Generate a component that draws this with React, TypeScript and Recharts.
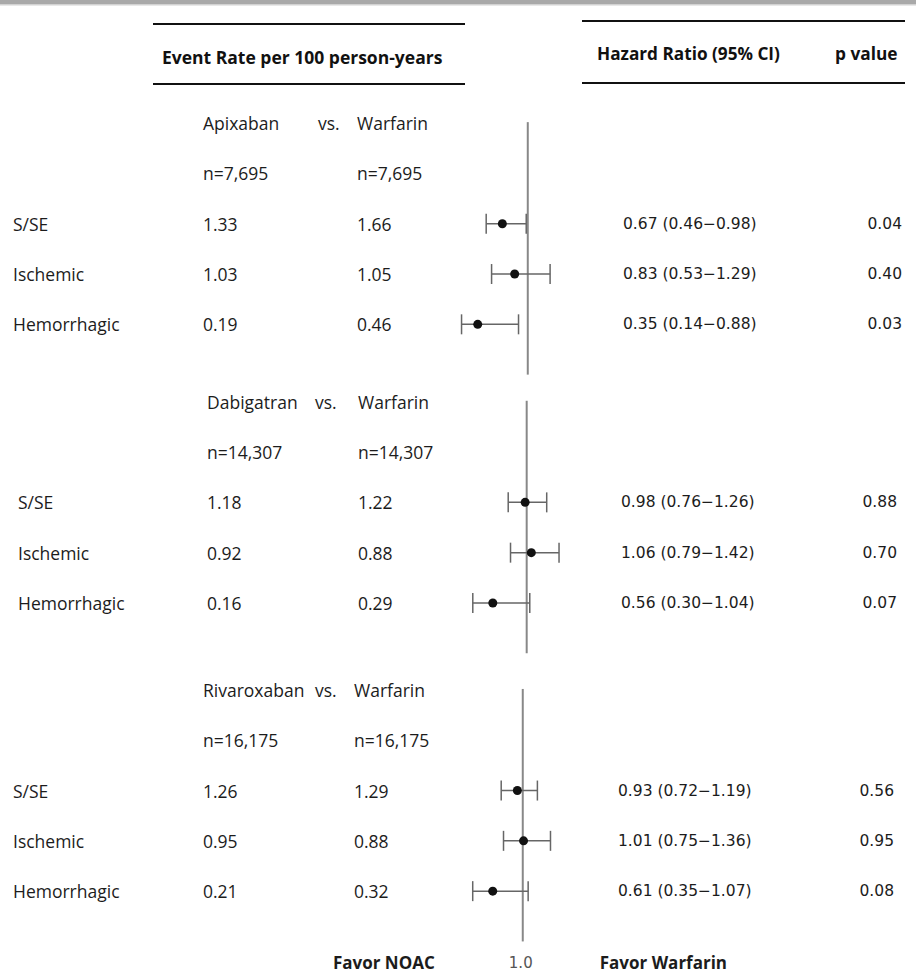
import React from 'react'
import { ComposedChart, Scatter, ErrorBar, XAxis, YAxis, ReferenceLine } from 'recharts'

// comparisons, one block each
const drugs = ['Apixaban', 'Dabigatran', 'Rivaroxaban']
const comparator = 'Warfarin'
const sampleSizes = ['n=7,695', 'n=14,307', 'n=16,175']
const outcomes = ['S/SE', 'Ischemic', 'Hemorrhagic']

// event rate per 100 person-years
const noacRates = [
  ['1.33', '1.03', '0.19'],
  ['1.18', '0.92', '0.16'],
  ['1.26', '0.95', '0.21'],
]
const warfarinRates = [
  ['1.66', '1.05', '0.46'],
  ['1.22', '0.88', '0.29'],
  ['1.29', '0.88', '0.32'],
]

// hazard ratio and 95% CI
const hazardRatios = [
  [0.67, 0.83, 0.35],
  [0.98, 1.06, 0.56],
  [0.93, 1.01, 0.61],
]
const ciLower = [
  [0.46, 0.53, 0.14],
  [0.76, 0.79, 0.3],
  [0.72, 0.75, 0.35],
]
const ciUpper = [
  [0.98, 1.29, 0.88],
  [1.26, 1.42, 1.04],
  [1.19, 1.36, 1.07],
]
const pValues = [
  ['0.04', '0.40', '0.03'],
  ['0.88', '0.70', '0.07'],
  ['0.56', '0.95', '0.08'],
]
const nullValue = 1
const favorLabels = ['Favor NOAC', 'Favor Warfarin']

// layout
const W = 916
const H = 980
const SECTION_TOP = [0, 5.54, 11.27]
const X_DOMAINS: [number, number][] = [
  [-0.01, 1.99],
  [0.004, 2.004],
  [0.055, 2.055],
]
const COLS = [
  { label: 13, noac: 203, vs: 318, warf: 357, hr: 623, p: 902 },
  { label: 18, noac: 207, vs: 315, warf: 358, hr: 621, p: 897 },
  { label: 13, noac: 203, vs: 315, warf: 354, hr: 618, p: 894 },
]

const SANS = '"Open Sans", "Liberation Sans", sans-serif'
const VERD = '"DejaVu Sans", sans-serif'
const INK = '#1c1c1c'

type Row = { pos: number; section: number; kind: 'drug' | 'n' | 'outcome'; k: number }

const rows: Row[] = []
drugs.forEach((_, s) => {
  rows.push({ pos: SECTION_TOP[s], section: s, kind: 'drug', k: -1 })
  rows.push({ pos: SECTION_TOP[s] + 1, section: s, kind: 'n', k: -1 })
  outcomes.forEach((_, k) => rows.push({ pos: SECTION_TOP[s] + 2 + k, section: s, kind: 'outcome', k }))
})

const pointsFor = (s: number) =>
  outcomes.map((name, k) => {
    const hr = hazardRatios[s][k]
    return {
      name,
      hr,
      y: SECTION_TOP[s] + 2 + k,
      err: [hr - ciLower[s][k], ciUpper[s][k] - hr],
    }
  })

const fmtCI = (s: number, k: number) =>
  `${hazardRatios[s][k].toFixed(2)} (${ciLower[s][k].toFixed(2)}\u2212${ciUpper[s][k].toFixed(2)})`

const RowTick = (props: any) => {
  const { y, payload, index } = props
  const v = payload ? payload.value : undefined
  let row = rows.find((r) => Math.abs(r.pos - Number(v)) < 1e-3)
  if (!row && typeof index === 'number') row = rows[index]
  if (!row) return <g />
  const c = COLS[row.section]
  const s = row.section
  const t = (x: number, str: string, extra: any = {}) => (
    <text x={x} y={y} dominantBaseline="central" fontFamily={SANS} fontSize={17.5} fill={INK} {...extra}>
      {str}
    </text>
  )
  if (row.kind === 'drug') {
    return (
      <g>
        {t(c.noac, drugs[s])}
        {t(c.vs, 'vs.')}
        {t(c.warf, comparator)}
      </g>
    )
  }
  if (row.kind === 'n') {
    return (
      <g>
        {t(c.noac, sampleSizes[s])}
        {t(c.warf, sampleSizes[s])}
      </g>
    )
  }
  const k = row.k
  return (
    <g>
      {t(c.label, outcomes[k])}
      {t(c.noac, noacRates[s][k])}
      {t(c.warf, warfarinRates[s][k])}
      <text x={c.hr} y={y} dominantBaseline="central" fontFamily={VERD} fontSize={15.5} fill={INK}>
        {fmtCI(s, k)}
      </text>
      <text x={c.p} y={y} dominantBaseline="central" textAnchor="end" fontFamily={VERD} fontSize={15.5} fill={INK}>
        {pValues[s][k]}
      </text>
    </g>
  )
}

// footer drawn as the label of the last reference line
const FooterLabel = (props: any) => {
  const vb = props.viewBox || {}
  const x = vb.x ?? 0
  const bottom = Math.max(vb.y ?? 0, (vb.y ?? 0) + (vb.height ?? 0))
  const cy = bottom + 21
  return (
    <g>
      <text x={x - 88} y={cy} textAnchor="end" dominantBaseline="central" fontFamily={SANS} fontWeight={700} fontSize={17} fill={INK}>
        {favorLabels[0]}
      </text>
      <text x={x - 2} y={cy + 1} textAnchor="middle" dominantBaseline="central" fontFamily={VERD} fontSize={15} fill="#555">
        {nullValue.toFixed(1)}
      </text>
      <text x={x + 77} y={cy} dominantBaseline="central" fontFamily={SANS} fontWeight={700} fontSize={17} fill={INK}>
        {favorLabels[1]}
      </text>
    </g>
  )
}

const Dot = (p: any) => <circle cx={p.cx} cy={p.cy} r={4.5} fill="#111" />

const Header = () => (
  <svg width={W} height={100} style={{ position: 'absolute', left: 0, top: 0 }}>
    <rect x={0} y={0} width={W} height={4} fill="#a9a9a9" />
    <rect x={0} y={4} width={W} height={1.5} fill="#d2d2d2" />
    <line x1={153} x2={465} y1={24} y2={24} stroke="#111" strokeWidth={2.2} />
    <line x1={153} x2={465} y1={84} y2={84} stroke="#111" strokeWidth={2.2} />
    <line x1={582} x2={905} y1={21} y2={21} stroke="#111" strokeWidth={2.2} />
    <line x1={582} x2={905} y1={83} y2={83} stroke="#111" strokeWidth={2.2} />
    <text x={162} y={57} dominantBaseline="central" fontFamily={SANS} fontWeight={700} fontSize={17.5} fill="#111">
      Event Rate per 100 person-years
    </text>
    <text x={597} y={53} dominantBaseline="central" fontFamily={SANS} fontWeight={700} fontSize={17.2} fill="#111">
      Hazard Ratio (95% CI)
    </text>
    <text x={835} y={53} dominantBaseline="central" fontFamily={SANS} fontWeight={700} fontSize={17.3} fill="#111">
      p value
    </text>
  </svg>
)

export default function App() {
  return (
    <div style={{ position: 'absolute', left: 0, top: 0, width: W, height: H, background: '#fff' }}>
      <ComposedChart width={W} height={H} margin={{ top: 98, right: 312, bottom: 27, left: 400 }}>
        {drugs.map((_, s) => (
          <XAxis
            key={`x${s}`}
            xAxisId={`x${s}`}
            type="number"
            dataKey="hr"
            domain={X_DOMAINS[s]}
            allowDataOverflow
            hide
          />
        ))}
        <YAxis
          type="number"
          dataKey="y"
          domain={[-0.5, 16.5]}
          allowDataOverflow
          reversed
          width={50}
          ticks={rows.map((r) => r.pos)}
          interval={0}
          axisLine={false}
          tickLine={false}
          tick={RowTick}
        />
        {drugs.map((_, s) => (
          <ReferenceLine
            key={`ref${s}`}
            xAxisId={`x${s}`}
            segment={[
              { x: nullValue, y: SECTION_TOP[s] - 0.02 },
              { x: nullValue, y: SECTION_TOP[s] + 5.0 },
            ]}
            stroke="#888"
            strokeWidth={2}
            label={s === drugs.length - 1 ? FooterLabel : undefined}
          />
        ))}
        {drugs.map((d, s) => (
          <Scatter key={d} name={d} xAxisId={`x${s}`} data={pointsFor(s)} shape={Dot} isAnimationActive={false}>
            <ErrorBar dataKey="err" direction="x" width={10} stroke="#666" strokeWidth={1.5} />
          </Scatter>
        ))}
      </ComposedChart>
      <Header />
    </div>
  )
}
